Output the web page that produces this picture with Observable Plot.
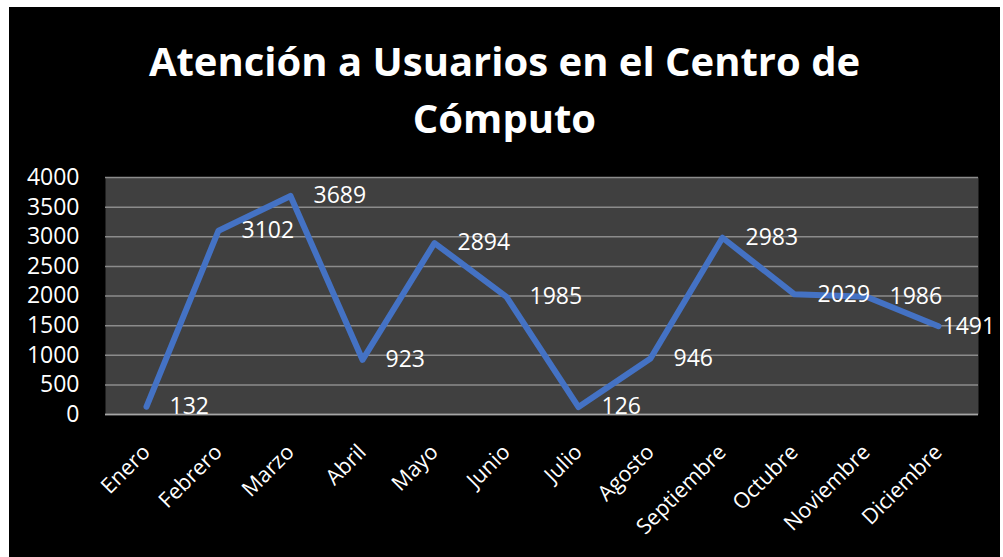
<!DOCTYPE html>
<html><head><meta charset="utf-8">
<script src="https://cdn.jsdelivr.net/npm/d3@7"></script>
<script src="https://cdn.jsdelivr.net/npm/@observablehq/plot@0.6"></script>
<style>
html,body{margin:0;padding:0;background:#fff;width:1003px;height:557px;overflow:hidden;}
#box{position:absolute;left:9px;top:7px;width:991px;height:550px;background:#000;}
.title{position:absolute;left:0;width:991px;text-align:center;font-family:"Open Sans";font-weight:700;font-size:40px;line-height:57px;color:#fff;}
#chart{position:absolute;left:0;top:143px;}
</style></head><body>
<div id="box">
<div class="title" id="title" style="top:24.5px">Atención a Usuarios en el Centro de<br>Cómputo</div>
<div id="chart"></div>
</div>
<script>
const months = ["Enero","Febrero","Marzo","Abril","Mayo","Junio","Julio","Agosto","Septiembre","Octubre","Noviembre","Diciembre"];
const values = [132, 3102, 3689, 923, 2894, 1985, 126, 946, 2983, 2029, 1986, 1491];
const yTicks = [0, 500, 1000, 1500, 2000, 2500, 3000, 3500, 4000];

const data = months.map((m, i) => ({month: m, value: values[i]}));
const last = months[months.length - 1];

const plot = Plot.plot({
  width: 991, height: 407,
  marginLeft: 96, marginRight: 22, marginTop: 27, marginBottom: 143,
  style: {background: "transparent", color: "#fff", fontFamily: "Open Sans", fontSize: "22px", overflow: "visible"},
  x: {type: "point", domain: months, padding: 0.5, label: null},
  y: {domain: [0, 4000], label: null},
  marks: [
    Plot.frame({fill: "#404040", stroke: null}),
    Plot.gridY(yTicks, {stroke: "#8c8c8c", strokeOpacity: 1, strokeWidth: 1.5}),
    Plot.ruleY([0], {stroke: "#a6a6a6", strokeWidth: 1.5}),
    Plot.axisY(yTicks, {tickSize: 0, tickPadding: 26, tickFormat: d3.format("d"), fontSize: 23, fill: "#fff", label: null}),
    Plot.axisX({tickSize: 0, tickRotate: -45, tickPadding: 34, fontSize: 21.5, fill: "#fff", label: null}),
    Plot.line(data, {x: "month", y: "value", stroke: "#4472C4", strokeWidth: 6, strokeLinejoin: "round", strokeLinecap: "round"}),
    Plot.text(data.filter(d => d.month !== last), {x: "month", y: "value", text: d => String(d.value), dx: 23, textAnchor: "start", fill: "#fff", fontSize: 23}),
    Plot.text(data.filter(d => d.month === last), {x: "month", y: "value", text: d => String(d.value), dx: 4, textAnchor: "start", fill: "#fff", fontSize: 23})
  ]
});
document.getElementById("chart").appendChild(plot);
</script>
</body></html>
